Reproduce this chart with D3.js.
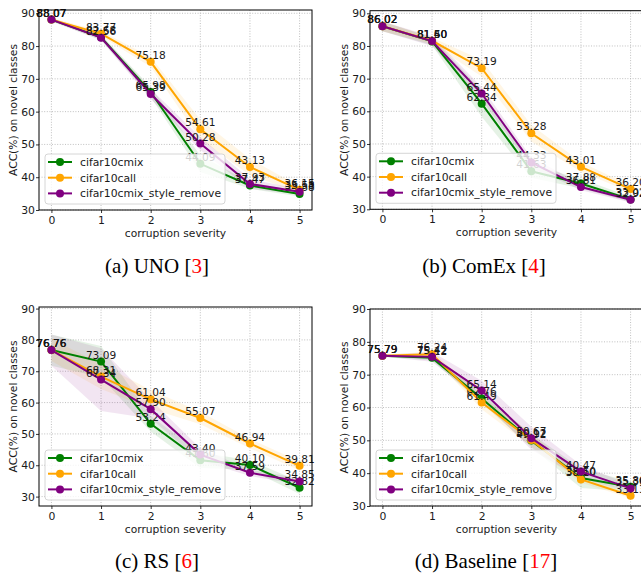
<!DOCTYPE html>
<html>
<head>
<meta charset="utf-8">
<script src="https://cdn.jsdelivr.net/npm/d3@7"></script>
<style>
  body { margin: 0; background: #fff; }
</style>
</head>
<body>
<script>
// x categories and shared labels
const severity = [0, 1, 2, 3, 4, 5];
const seriesNames = ["cifar10cmix", "cifar10call", "cifar10cmix_style_remove"];
const seriesColors = ["green", "orange", "purple"];
const yTicks = [30, 40, 50, 60, 70, 80, 90];

// (a) UNO
const unoMix   = [88.07, 82.68, 65.98, 44.09, 37.47, 34.88];
const unoCall  = [88.07, 83.77, 75.18, 54.61, 43.13, 36.15];
const unoStyle = [88.07, 82.56, 65.39, 50.28, 37.93, 35.58];
const unoMixBand   = [0.5, 0.8, 1.5, 2.5, 1.0, 0.8];
const unoCallBand  = [0.5, 0.8, 1.5, 3.0, 2.5, 1.0];
const unoStyleBand = [0.5, 0.8, 1.5, 2.0, 1.5, 0.8];

// (b) ComEx
const comexMix   = [86.02, 81.40, 62.34, 41.63, 37.88, 33.02];
const comexCall  = [86.02, 81.60, 73.19, 53.28, 43.01, 36.20];
const comexStyle = [86.02, 81.50, 65.44, 44.33, 36.81, 32.92];
const comexMixBand   = [1.5, 1.2, 4.0, 2.0, 1.5, 0.8];
const comexCallBand  = [1.5, 1.0, 2.5, 2.5, 1.5, 1.0];
const comexStyleBand = [1.5, 1.5, 2.0, 1.5, 1.0, 0.8];

// (c) RS
const rsMix   = [76.76, 73.09, 53.24, 41.60, 40.10, 32.82];
const rsCall  = [76.76, 68.31, 61.04, 55.07, 46.94, 39.81];
const rsStyle = [76.76, 67.34, 57.90, 43.40, 37.59, 34.85];
const rsMixBand   = [5.0, 5.0, 2.5, 2.5, 1.5, 2.0];
const rsCallBand  = [3.5, 4.0, 3.0, 2.0, 1.5, 1.5];
const rsStyleBand = [5.0, 10.0, 3.0, 2.0, 1.0, 1.0];

// (d) Baseline
const baseMix   = [75.79, 75.12, 62.76, 49.92, 38.50, 35.86];
const baseCall  = [75.79, 76.24, 61.49, 50.12, 38.10, 33.13];
const baseStyle = [75.79, 75.42, 65.14, 50.67, 40.47, 35.36];
const baseMixBand   = [0.3, 0.8, 1.5, 2.0, 3.0, 1.5];
const baseCallBand  = [0.3, 0.8, 2.0, 2.0, 1.0, 0.8];
const baseStyleBand = [0.3, 1.5, 3.0, 3.5, 2.0, 1.0];

const panels = [
  {label: "(a) UNO [", ref: "3", series: [unoMix, unoCall, unoStyle],
   bands: [unoMixBand, unoCallBand, unoStyleBand],
   left: 39, top: 10, width: 273, height: 200, yDomain: [30, 91], capX: 157, capY: 273},
  {label: "(b) ComEx [", ref: "4", series: [comexMix, comexCall, comexStyle],
   bands: [comexMixBand, comexCallBand, comexStyleBand],
   left: 370, top: 10.7, width: 273, height: 198.6, yDomain: [30, 90.8], capX: 484, capY: 273},
  {label: "(c) RS [", ref: "6", series: [rsMix, rsCall, rsStyle],
   bands: [rsMixBand, rsCallBand, rsStyleBand],
   left: 39, top: 307, width: 273, height: 199, yDomain: [27, 90.5], capX: 157, capY: 568},
  {label: "(d) Baseline [", ref: "17", series: [baseMix, baseCall, baseStyle],
   bands: [baseMixBand, baseCallBand, baseStyleBand],
   left: 370, top: 309, width: 273, height: 197, yDomain: [30, 90], capX: 486, capY: 568}
];

const font = "DejaVu Sans, sans-serif";

const svg = d3.select("body")
      .append("svg")
      .attr("width", 641)
      .attr("height", 574)
      .style("display", "block");

svg.append("rect").attr("width", 641).attr("height", 574).attr("fill", "#fff");

panels.forEach(drawPanel);

function drawPanel(p){
    const bottom = p.top + p.height;
    const xScale = d3.scaleLinear().domain([-0.25, 5.25]).range([p.left, p.left + p.width]);
    const yScale = d3.scaleLinear().domain(p.yDomain).range([bottom, p.top]);
    const g = svg.append("g");

    // dotted grid
    g.selectAll(".vgrid")
        .data(severity)
        .enter()
        .append("line")
        .attr("x1", d => xScale(d)).attr("x2", d => xScale(d))
        .attr("y1", p.top).attr("y2", bottom)
        .attr("stroke", "#b0b0b0").attr("stroke-width", 0.8)
        .attr("stroke-dasharray", "1,1.6");

    g.selectAll(".hgrid")
        .data(yTicks)
        .enter()
        .append("line")
        .attr("x1", p.left).attr("x2", p.left + p.width)
        .attr("y1", d => yScale(d)).attr("y2", d => yScale(d))
        .attr("stroke", "#b0b0b0").attr("stroke-width", 0.8)
        .attr("stroke-dasharray", "1,1.6");

    // shaded bands
    p.series.forEach(function(vals, k){
        const band = p.bands[k];
        const area = d3.area()
              .x((d, i) => xScale(severity[i]))
              .y0((d, i) => yScale(d - band[i]))
              .y1((d, i) => yScale(d + band[i]));
        g.append("path")
            .attr("d", area(vals))
            .attr("fill", seriesColors[k])
            .attr("fill-opacity", 0.1);
    });

    // lines, markers and value labels
    p.series.forEach(function(vals, k){
        const line = d3.line()
              .x((d, i) => xScale(severity[i]))
              .y(d => yScale(d));
        g.append("path")
            .attr("d", line(vals))
            .attr("fill", "none")
            .attr("stroke", seriesColors[k])
            .attr("stroke-width", 2);
        g.selectAll(".pt" + k)
            .data(vals)
            .enter()
            .append("circle")
            .attr("cx", (d, i) => xScale(severity[i]))
            .attr("cy", d => yScale(d))
            .attr("r", 4)
            .attr("fill", seriesColors[k]);
        g.selectAll(".lbl" + k)
            .data(vals)
            .enter()
            .append("text")
            .attr("x", (d, i) => xScale(severity[i]))
            .attr("y", d => yScale(d) - 3)
            .attr("text-anchor", "middle")
            .attr("font-family", font)
            .attr("font-size", "10.6px")
            .attr("fill", "#1a1a1a")
            .text(d => d3.format(".2f")(d));
    });

    // axes
    const xAxis = g.append("g")
        .attr("transform", "translate(0," + bottom + ")")
        .call(d3.axisBottom(xScale).tickValues(severity).tickSize(3).tickPadding(3).tickFormat(d3.format("d")));
    const yAxis = g.append("g")
        .attr("transform", "translate(" + p.left + ",0)")
        .call(d3.axisLeft(yScale).tickValues(yTicks).tickSize(3).tickPadding(1));
    [xAxis, yAxis].forEach(function(a){
        a.select(".domain").remove();
        a.selectAll("text").attr("font-family", font).attr("font-size", "10.8px").attr("fill", "#1a1a1a");
        a.selectAll("line").attr("stroke", "#000").attr("stroke-width", 0.8);
    });

    g.append("rect")
        .attr("x", p.left).attr("y", p.top)
        .attr("width", p.width).attr("height", p.height)
        .attr("fill", "none").attr("stroke", "#000").attr("stroke-width", 1);

    g.append("text")
        .attr("x", p.left + p.width / 2)
        .attr("y", bottom + 27)
        .attr("text-anchor", "middle")
        .attr("font-family", font).attr("font-size", "10.7px").attr("fill", "#1a1a1a")
        .text("corruption severity");

    g.append("text")
        .attr("transform", "translate(" + (p.left - 22) + "," + (p.top + p.height / 2) + ") rotate(-90)")
        .attr("text-anchor", "middle")
        .attr("font-family", font).attr("font-size", "10.7px").attr("fill", "#1a1a1a")
        .text("ACC(%) on novel classes");

    // legend, lower left
    const lx = p.left + 6, ly = bottom - 6 - 50;
    const legend = g.append("g").attr("transform", "translate(" + lx + "," + ly + ")");
    legend.append("rect")
        .attr("width", 180).attr("height", 50).attr("rx", 3)
        .attr("fill", "#fff").attr("fill-opacity", 0.8)
        .attr("stroke", "#cccccc").attr("stroke-width", 0.8);
    seriesNames.forEach(function(name, k){
        const yy = 8 + k * 15.7;
        legend.append("line")
            .attr("x1", 3).attr("x2", 27).attr("y1", yy).attr("y2", yy)
            .attr("stroke", seriesColors[k]).attr("stroke-width", 2);
        legend.append("circle")
            .attr("cx", 15).attr("cy", yy).attr("r", 4).attr("fill", seriesColors[k]);
        legend.append("text")
            .attr("x", 35).attr("y", yy + 3.8)
            .attr("font-family", font).attr("font-size", "10.8px").attr("fill", "#1a1a1a")
            .text(name);
    });

    // caption
    const cap = svg.append("text")
        .attr("x", p.capX).attr("y", p.capY)
        .attr("text-anchor", "middle")
        .attr("font-family", "Liberation Serif, Times New Roman, serif")
        .attr("font-size", "21px")
        .attr("fill", "#000");
    cap.append("tspan").text(p.label);
    cap.append("tspan").attr("fill", "#ff0000").text(p.ref);
    cap.append("tspan").text("]");
}
</script>
</body>
</html>
